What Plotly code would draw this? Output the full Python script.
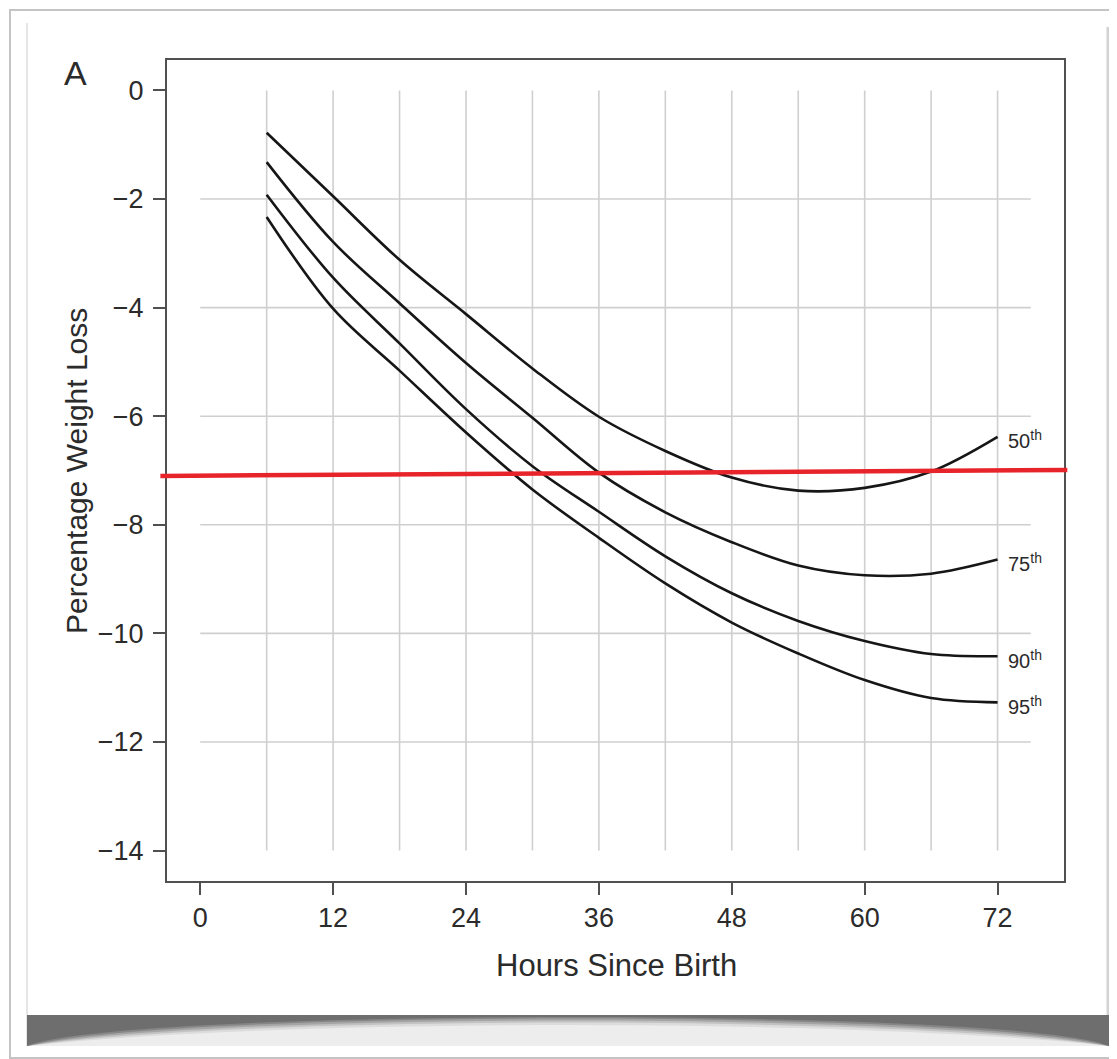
import plotly.graph_objects as go

# ---------------- data ----------------
hours = [6, 12, 18, 24, 30, 36, 42, 48, 54, 60, 66, 72]
p50 = [-0.78, -1.95, -3.12, -4.12, -5.12, -6.01, -6.64, -7.13, -7.37, -7.32, -7.02, -6.38]
p75 = [-1.32, -2.79, -3.92, -5.02, -6.03, -7.04, -7.77, -8.32, -8.75, -8.93, -8.90, -8.64]
p90 = [-1.92, -3.45, -4.66, -5.87, -6.92, -7.76, -8.58, -9.26, -9.77, -10.14, -10.38, -10.42]
p95 = [-2.33, -4.02, -5.16, -6.30, -7.35, -8.24, -9.08, -9.80, -10.37, -10.86, -11.19, -11.27]
series_names = ["50", "75", "90", "95"]

x_ticks = [0, 12, 24, 36, 48, 60, 72]
y_ticks = [0, -2, -4, -6, -8, -10, -12, -14]
grid_x = [6, 12, 18, 24, 30, 36, 42, 48, 54, 60, 66, 72]
grid_y = [-2, -4, -6, -8, -10, -12]

red_x = [-3.6, 78.3]
red_y = [-7.10, -6.99]

# ---------------- geometry (page pixels) ----------------
FW, FH = 1117, 1059
OFF = 8  # default page body margin
L, R, T, B = 167, 1064, 60, 881
XR = [-3, 78]
YR = [-14.56, 0.56]


def px_x(p):
    return (p - L) / (R - L)


def px_y(p):
    return 1 - (p - T) / (B - T)


def dx_paper(v):
    return (v - XR[0]) / (XR[1] - XR[0])


FONT = "Liberation Sans, Arial, Helvetica, sans-serif"
TXT = "#2b2b2b"

fig = go.Figure()

for name, vals in zip(series_names, [p50, p75, p90, p95]):
    fig.add_trace(go.Scatter(
        x=hours, y=vals, mode="lines", name=name,
        line=dict(color="#161616", width=2.6, shape="spline", smoothing=1.0),
        showlegend=False, hoverinfo="skip",
    ))

shapes = []
# partial grid lines
for gx in grid_x:
    shapes.append(dict(type="line", xref="x", yref="y", x0=gx, x1=gx, y0=0, y1=-14,
                       line=dict(color="#cfcfcf", width=1.6), layer="below"))
for gy in grid_y:
    shapes.append(dict(type="line", xref="x", yref="y", x0=0, x1=75, y0=gy, y1=gy,
                       line=dict(color="#cfcfcf", width=1.6), layer="below"))

# red threshold line
shapes.append(dict(type="line", xref="paper", yref="y",
                   x0=dx_paper(red_x[0]), x1=dx_paper(red_x[1]),
                   y0=red_y[0], y1=red_y[1],
                   line=dict(color="#e8242b", width=4.5), layer="above"))

# photo frame decoration
shapes.append(dict(type="rect", xref="paper", yref="paper",
                   x0=px_x(10), x1=px_x(1135), y0=px_y(10), y1=px_y(1058),
                   line=dict(color="#c4c4c4", width=2), layer="below"))
shapes.append(dict(type="line", xref="paper", yref="paper",
                   x0=px_x(27), x1=px_x(27), y0=px_y(23), y1=px_y(1046),
                   line=dict(color="#e6e6e6", width=2), layer="below"))
shapes.append(dict(type="line", xref="paper", yref="paper",
                   x0=px_x(1108), x1=px_x(1108), y0=px_y(27), y1=px_y(1046),
                   line=dict(color="#d2d2d2", width=3), layer="below"))

# bottom shadow band
bx0, bx1, by0, by1 = 27, 1109, 1015, 1046
shapes.append(dict(type="rect", xref="paper", yref="paper",
                   x0=px_x(bx0), x1=px_x(bx1), y0=px_y(by0), y1=px_y(by1),
                   fillcolor="#ededed", line=dict(width=0), layer="below"))


def band_path(mid_y, reach):
    c = (mid_y - 0.25 * by1) / 0.75
    return (f"M {px_x(bx0)},{px_y(by0)} L {px_x(bx1)},{px_y(by0)} "
            f"L {px_x(bx1)},{px_y(by1)} "
            f"C {px_x(bx1 - reach)},{px_y(c)} {px_x(bx0 + reach)},{px_y(c)} {px_x(bx0)},{px_y(by1)} Z")


for mid, reach, col in [(1025, 260, "#dcdcdc"), (1022.5, 220, "#c2c2c2"),
                        (1020.5, 180, "#a4a4a4"), (1018.5, 140, "#868686"),
                        (1017, 90, "#6e6e6e")]:
    shapes.append(dict(type="path", xref="paper", yref="paper", path=band_path(mid, reach),
                       fillcolor=col, line=dict(width=0), layer="below"))

annotations = []
for name, vals in zip(series_names, [p50, p75, p90, p95]):
    annotations.append(dict(
        x=hours[-1], y=vals[-1], xref="x", yref="y",
        text=f"{name}<sup>th</sup>", showarrow=False,
        xanchor="left", yanchor="middle", xshift=8, yshift=-3,
        font=dict(family=FONT, size=20, color=TXT)))

annotations.append(dict(x=px_x(75), y=px_y(73), xref="paper", yref="paper",
                        text="A", showarrow=False, xanchor="center", yanchor="middle",
                        font=dict(family=FONT, size=34, color=TXT)))
annotations.append(dict(x=px_x(616), y=px_y(966), xref="paper", yref="paper",
                        text="Hours Since Birth", showarrow=False,
                        xanchor="center", yanchor="middle",
                        font=dict(family=FONT, size=31, color=TXT)))
annotations.append(dict(x=px_x(76), y=px_y(471), xref="paper", yref="paper",
                        text="Percentage Weight Loss", showarrow=False, textangle=-90,
                        xanchor="center", yanchor="middle",
                        font=dict(family=FONT, size=30, color=TXT)))

fig.update_layout(
    width=FW, height=FH,
    margin=dict(l=L - OFF, r=FW - (R - OFF), t=T - OFF, b=FH - (B - OFF)),
    paper_bgcolor="white", plot_bgcolor="white",
    shapes=shapes, annotations=annotations,
    showlegend=False,
    xaxis=dict(range=XR, tickvals=x_ticks, ticktext=[str(v) for v in x_ticks],
               showgrid=False, zeroline=False, showline=True, mirror=True,
               linecolor="#505050", linewidth=2, ticks="outside", ticklen=12,
               tickwidth=2, tickcolor="#505050",
               tickfont=dict(family=FONT, size=27, color=TXT)),
    yaxis=dict(range=YR, tickvals=y_ticks,
               ticktext=[("\u2212" + str(-v)) if v < 0 else str(v) for v in y_ticks],
               showgrid=False, zeroline=False, showline=True, mirror=True,
               linecolor="#505050", linewidth=2, ticks="outside", ticklen=12,
               tickwidth=2, tickcolor="#505050", ticklabelstandoff=4,
               tickfont=dict(family=FONT, size=27, color=TXT)),
)

fig.write_html("out.html")
